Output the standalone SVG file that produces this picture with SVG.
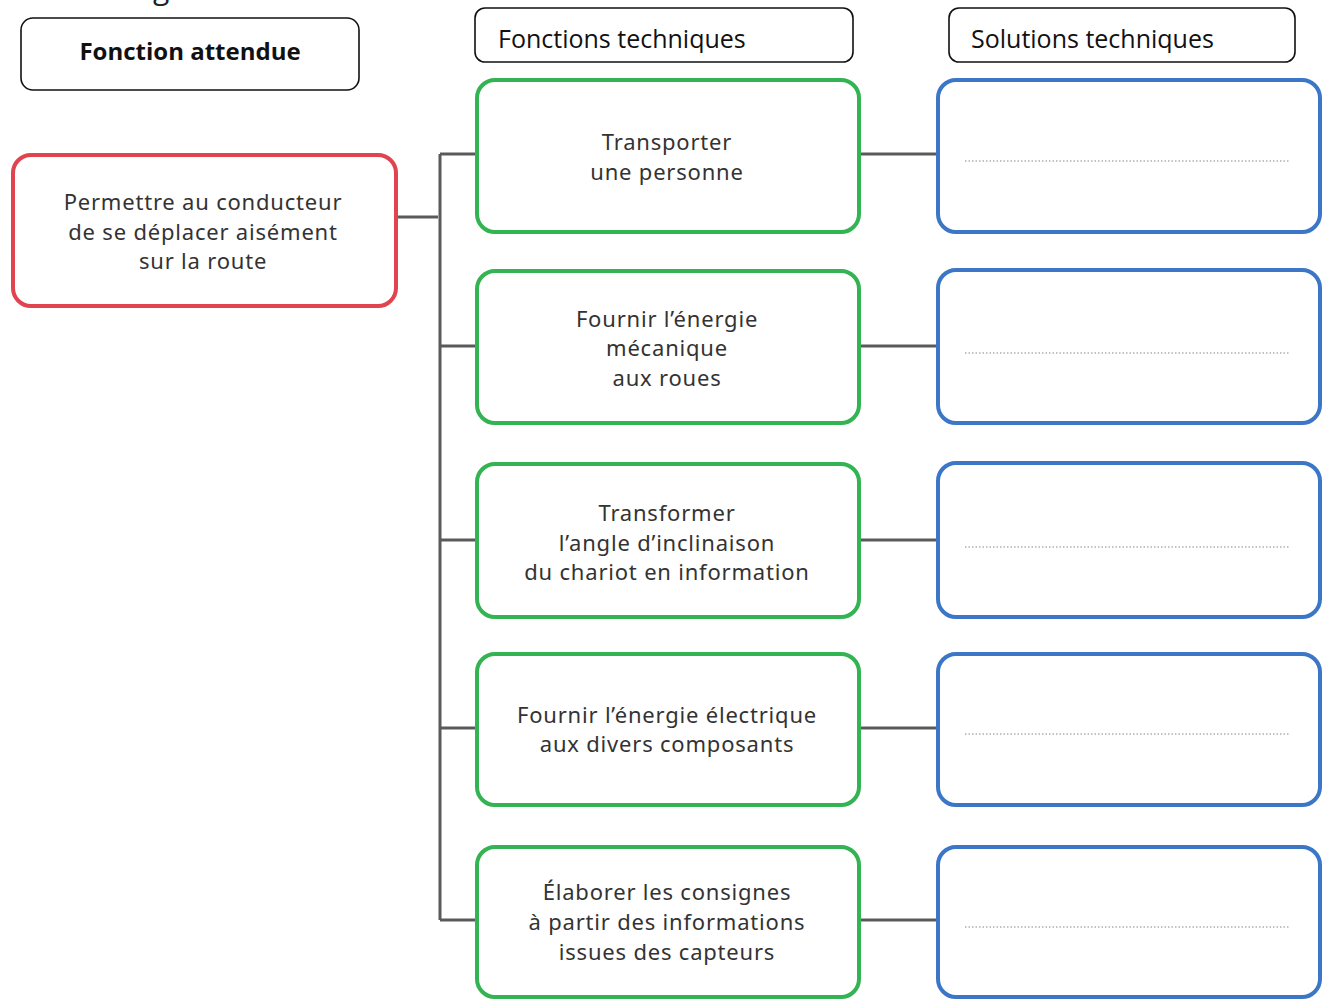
<svg xmlns="http://www.w3.org/2000/svg" width="1328" height="999" viewBox="0 0 1328 999">
<defs>
<style>
.hdr{fill:#fff;stroke:#111;stroke-width:1.6}
.hdrt{font-family:"Open Sans","Liberation Sans",sans-serif;font-size:25px;fill:#111}
.red{fill:#fff;stroke:#e0454f;stroke-width:4}
.grn{fill:#fff;stroke:#33b452;stroke-width:4}
.blu{fill:#fff;stroke:#3b77c6;stroke-width:4}
.t{font-family:"Noto Sans","DejaVu Sans",sans-serif;font-size:22px;fill:#333;text-anchor:middle;letter-spacing:0.8px}
.dots{stroke:#888;stroke-width:1.2;stroke-dasharray:1.5 2}
.con{stroke:#5a5a5a;stroke-width:3;fill:none}
</style>
<clipPath id="c1"><rect x="475" y="8" width="378" height="45"/></clipPath>
<clipPath id="c2"><rect x="949" y="8" width="346" height="45"/></clipPath>
</defs>
<rect width="1328" height="999" fill="#fff"/>
<text x="70" y="-1.5" font-family="Open Sans, Liberation Sans, sans-serif" font-size="30" fill="#222">Le diagramme fonctionnel ci-dessous</text>

<g id="h1"><rect class="hdr" x="21" y="18" width="338" height="72" rx="12"/><text x="190" y="60" text-anchor="middle" font-family="Open Sans, Liberation Sans, sans-serif" font-size="24" font-weight="bold" fill="#111">Fonction attendue</text></g>
<g id="h2"><rect class="hdr" x="475" y="8" width="378" height="54" rx="10"/><text class="hdrt" x="498" y="48" clip-path="url(#c1)">Fonctions techniques</text></g>
<g id="h3"><rect class="hdr" x="949" y="8" width="346" height="54" rx="10"/><text class="hdrt" x="971" y="48" clip-path="url(#c2)">Solutions techniques</text></g>

<g id="connectors">
<path class="con" d="M396 217H438M440 154V920M440 154H477M440 346H477M440 540H477M440 728H477M440 920H477"/>
<path class="con" d="M859 154H938M859 346H938M859 540H938M859 728H938M859 920H938"/>
</g>

<g id="fa"><rect class="red" x="13" y="155" width="383" height="151" rx="18"/>
<text class="t" x="203" y="210">Permettre au conducteur</text>
<text class="t" x="203" y="240">de se déplacer aisément</text>
<text class="t" x="203" y="269">sur la route</text></g>

<g id="ft1"><rect class="grn" x="477" y="80" width="382" height="152" rx="18"/>
<text class="t" x="667" y="150">Transporter</text>
<text class="t" x="667" y="180">une personne</text></g>
<g id="ft2"><rect class="grn" x="477" y="271" width="382" height="152" rx="18"/>
<text class="t" x="667" y="327">Fournir l’énergie</text>
<text class="t" x="667" y="356">mécanique</text>
<text class="t" x="667" y="386">aux roues</text></g>
<g id="ft3"><rect class="grn" x="477" y="464" width="382" height="153" rx="18"/>
<text class="t" x="667" y="521">Transformer</text>
<text class="t" x="667" y="551">l’angle d’inclinaison</text>
<text class="t" x="667" y="580">du chariot en information</text></g>
<g id="ft4"><rect class="grn" x="477" y="654" width="382" height="151" rx="18"/>
<text class="t" x="667" y="723">Fournir l’énergie électrique</text>
<text class="t" x="667" y="752">aux divers composants</text></g>
<g id="ft5"><rect class="grn" x="477" y="847" width="382" height="150" rx="18"/>
<text class="t" x="667" y="900">Élaborer les consignes</text>
<text class="t" x="667" y="930">à partir des informations</text>
<text class="t" x="667" y="960">issues des capteurs</text></g>

<g id="st1"><rect class="blu" x="938" y="80" width="382" height="152" rx="18"/><line class="dots" x1="965" y1="161" x2="1290" y2="161"/></g>
<g id="st2"><rect class="blu" x="938" y="270" width="382" height="153" rx="18"/><line class="dots" x1="965" y1="353" x2="1290" y2="353"/></g>
<g id="st3"><rect class="blu" x="938" y="463" width="382" height="154" rx="18"/><line class="dots" x1="965" y1="547" x2="1290" y2="547"/></g>
<g id="st4"><rect class="blu" x="938" y="654" width="382" height="151" rx="18"/><line class="dots" x1="965" y1="734" x2="1290" y2="734"/></g>
<g id="st5"><rect class="blu" x="938" y="847" width="382" height="150" rx="18"/><line class="dots" x1="965" y1="927" x2="1290" y2="927"/></g>
</svg>
